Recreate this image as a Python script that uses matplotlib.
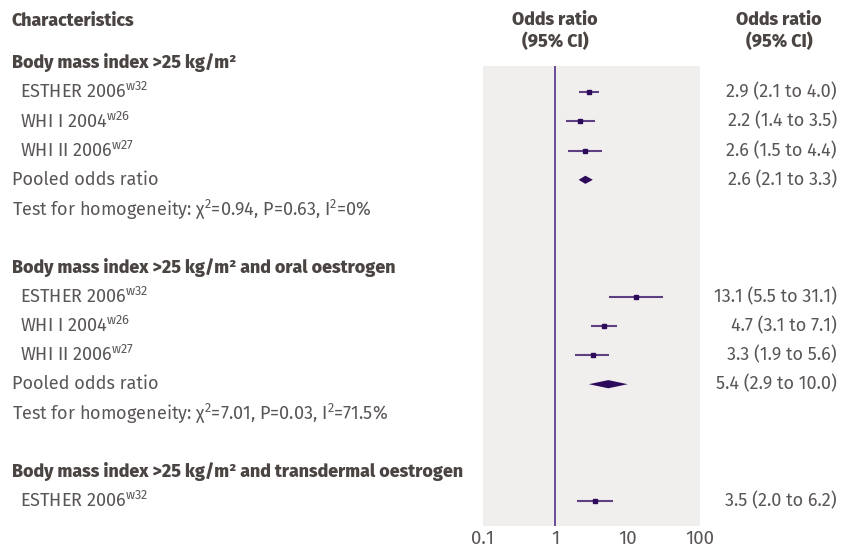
import numpy as np
import matplotlib.pyplot as plt
from matplotlib.transforms import blended_transform_factory, offset_copy

plt.rcParams['font.family'] = ['Fira Sans', 'Lato', 'DejaVu Sans']
plt.rcParams['mathtext.fontset'] = 'custom'
plt.rcParams['mathtext.rm'] = 'Fira Sans'
plt.rcParams['mathtext.it'] = 'Fira Sans:italic'
plt.rcParams['mathtext.bf'] = 'Fira Sans:bold'

# rows of the table, top to bottom ("h" heading, "s" study, "p" pooled, "t" test, "" blank)
row_kind = ["h", "s", "s", "s", "p", "t", "",
            "h", "s", "s", "s", "p", "t", "",
            "h", "s"]
row_label = [
    "Body mass index >25 kg/m\u00b2",
    "ESTHER 2006$^{\\mathrm{w32}}$",
    "WHI I 2004$^{\\mathrm{w26}}$",
    "WHI II 2006$^{\\mathrm{w27}}$",
    "Pooled odds ratio",
    "Test for homogeneity: \u03c7$^{\\mathrm{2}}$=0.94, P=0.63, I$^{\\mathrm{2}}$=0%",
    "",
    "Body mass index >25 kg/m\u00b2 and oral oestrogen",
    "ESTHER 2006$^{\\mathrm{w32}}$",
    "WHI I 2004$^{\\mathrm{w26}}$",
    "WHI II 2006$^{\\mathrm{w27}}$",
    "Pooled odds ratio",
    "Test for homogeneity: \u03c7$^{\\mathrm{2}}$=7.01, P=0.03, I$^{\\mathrm{2}}$=71.5%",
    "",
    "Body mass index >25 kg/m\u00b2 and transdermal oestrogen",
    "ESTHER 2006$^{\\mathrm{w32}}$",
]
odds = [None, 2.9, 2.2, 2.6, 2.6, None, None,
        None, 13.1, 4.7, 3.3, 5.4, None, None,
        None, 3.5]
ci_low = [None, 2.1, 1.4, 1.5, 2.1, None, None,
          None, 5.5, 3.1, 1.9, 2.9, None, None,
          None, 2.0]
ci_high = [None, 4.0, 3.5, 4.4, 3.3, None, None,
           None, 31.1, 7.1, 5.6, 10.0, None, None,
           None, 6.2]
x_ticks = [0.1, 1, 10, 100]
x_ticklabels = ["0.1", "1", "10", "100"]

text_col = "#5a5657"
head_col = "#4a4543"
mark_col = "#2e0a5a"
line_col = "#43206f"
ref_col = "#5e4191"
panel_bg = "#f0efee"

fs_text = 13
fs_head = 12.8

W, H = 849, 547
fig = plt.figure(figsize=(W / 100, H / 100), dpi=100)

# panel position in pixels
px0, px1, py0, py1 = 483, 700, 66, 526
ax = fig.add_axes([px0 / W, 1 - py1 / H, (px1 - px0) / W, (py1 - py0) / H])
ax.set_facecolor(panel_bg)
for s in ax.spines.values():
    s.set_visible(False)

row_y0, row_dy = 63, 29.2
n = len(row_kind)
ax.set_xscale("log")
ax.set_xlim(0.1, 100)
ax.set_ylim((py1 - row_y0) / row_dy, (py0 - row_y0) / row_dy)
ax.set_xticks(x_ticks)
ax.set_xticklabels(x_ticklabels, fontsize=13.5, color=text_col)
ax.minorticks_off()
ax.tick_params(axis="x", length=0, pad=3)
ax.set_yticks([])

ax.axvline(1, color=ref_col, lw=1.3, zorder=2)

for i in range(n):
    if odds[i] is None:
        continue
    if row_kind[i] == "s":
        ax.plot([ci_low[i], ci_high[i]], [i, i], color=line_col, lw=1.5,
                alpha=0.85, solid_capstyle="butt", zorder=3)
        ax.plot(odds[i], i, marker="s", ms=2.6, color=mark_col, mec=mark_col, zorder=4)
    elif row_kind[i] == "p":
        dh = 0.14
        ax.fill([ci_low[i], odds[i], ci_high[i], odds[i]],
                [i, i - dh, i, i + dh], color=mark_col, lw=0, zorder=4)

trans = blended_transform_factory(fig.transFigure, ax.transData)
trans = offset_copy(trans, fig=fig, y=2, units="dots")
for i in range(n):
    lab = row_label[i]
    if not lab:
        continue
    kind = row_kind[i]
    if kind == "h":
        ax.text(12 / W, i, lab, transform=trans, ha="left", va="center_baseline",
                fontsize=fs_head, fontweight=800, color=head_col, clip_on=False)
    elif kind == "s":
        ax.text(20 / W, i, lab, transform=trans, ha="left", va="center_baseline",
                fontsize=fs_text, color=text_col, clip_on=False)
    else:
        ax.text(12 / W, i, lab, transform=trans, ha="left", va="center_baseline",
                fontsize=fs_text, color=text_col, clip_on=False)
    if odds[i] is not None:
        s = "%.1f (%.1f to %.1f)" % (odds[i], ci_low[i], ci_high[i])
        ax.text(837 / W, i, s, transform=trans, ha="right", va="center_baseline",
                fontsize=fs_text, color=text_col, clip_on=False)

# column headings
fig.text(12 / W, 1 - 19 / H, "Characteristics", ha="left", va="center_baseline",
         fontsize=fs_head, fontweight=800, color=head_col)
fig.text(555 / W, 1 - 31 / H, "Odds ratio\n(95% CI)", ha="center", va="center",
         fontsize=fs_head, fontweight=800, color=head_col, linespacing=1.2)
fig.text(779 / W, 1 - 31 / H, "Odds ratio\n(95% CI)", ha="center", va="center",
         fontsize=fs_head, fontweight=800, color=head_col, linespacing=1.2)

fig.savefig("out.png", dpi=100)
